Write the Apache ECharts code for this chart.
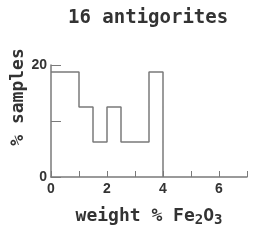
<!DOCTYPE html>
<html>
<head>
<meta charset="utf-8">
<script src="https://cdn.jsdelivr.net/npm/echarts@6/dist/echarts.min.js"></script>
<style>
  html, body { margin: 0; padding: 0; background: #fff; }
  #chart { width: 253px; height: 240px; }
</style>
</head>
<body>
<div id="chart"></div>
<script>
// bin left edges (wt % Fe2O3), last one closes the histogram
var binEdges = [0, 0.5, 1, 1.5, 2, 2.5, 3, 3.5, 4]
// % of the 16 samples in each bin (0 after the last edge)
var percentSamples = [18.75, 18.75, 12.5, 6.25, 12.5, 6.25, 6.25, 18.75, 0]
var xLabels = [0, 2, 4, 6]
var yLabels = [0, 20]

var chart = echarts.init(document.getElementById('chart'))
var mono = '"DejaVu Sans Mono", monospace'
var ink = '#333'
var grey = '#7a7a7a'

chart.setOption({
  animation: false,
  title: {
    text: '16 antigorites',
    left: 63,
    top: 4,
    textStyle: { fontFamily: mono, fontSize: 19, fontWeight: 'bold', color: ink }
  },
  grid: { left: 51, right: 6, top: 65, bottom: 63, outerBoundsMode: 'none' },
  xAxis: {
    type: 'value',
    min: 0,
    max: 7,
    interval: 1,
    name: 'weight % Fe{sub|2}O{sub|3}',
    nameLocation: 'middle',
    nameGap: 28,
    nameMoveOverlap: false,
    nameTextStyle: {
      fontFamily: mono, fontSize: 18, fontWeight: 'bold', color: ink,
      rich: { sub: { fontFamily: mono, fontSize: 14, fontWeight: 'bold', color: ink, verticalAlign: 'bottom', padding: [8, 0, 0, 0] } }
    },
    axisLine: { lineStyle: { color: grey, width: 1.5 } },
    axisTick: { inside: true, length: 6, lineStyle: { color: grey } },
    axisLabel: {
      margin: 5,
      fontFamily: 'Liberation Sans Narrow, Liberation Sans, sans-serif',
      fontSize: 14, fontWeight: 'bold', color: ink,
      formatter: function (v) { return xLabels.indexOf(v) >= 0 ? String(v) : '' }
    },
    splitLine: { show: false }
  },
  yAxis: {
    type: 'value',
    min: 0,
    max: 20,
    interval: 10,
    name: '% samples',
    nameLocation: 'middle',
    nameGap: 24,
    nameMoveOverlap: false,
    nameTextStyle: {
      fontFamily: mono, fontSize: 18, fontWeight: 'bold', color: ink,
      padding: [0, 0, 0, 48]
    },
    axisLine: { show: true, lineStyle: { color: grey, width: 1.5 } },
    axisTick: { show: true, inside: true, length: 10, lineStyle: { color: grey } },
    axisLabel: {
      margin: 4,
      fontFamily: 'Liberation Sans Narrow, Liberation Sans, sans-serif',
      fontSize: 14, fontWeight: 'bold', color: ink,
      formatter: function (v) { return yLabels.indexOf(v) >= 0 ? String(v) : '' }
    },
    splitLine: { show: false }
  },
  series: [{
    type: 'line',
    step: 'end',
    symbol: 'none',
    data: binEdges.map(function (x, i) { return [x, percentSamples[i]] }),
    lineStyle: { color: grey, width: 1.5 }
  }]
})
</script>
</body>
</html>
